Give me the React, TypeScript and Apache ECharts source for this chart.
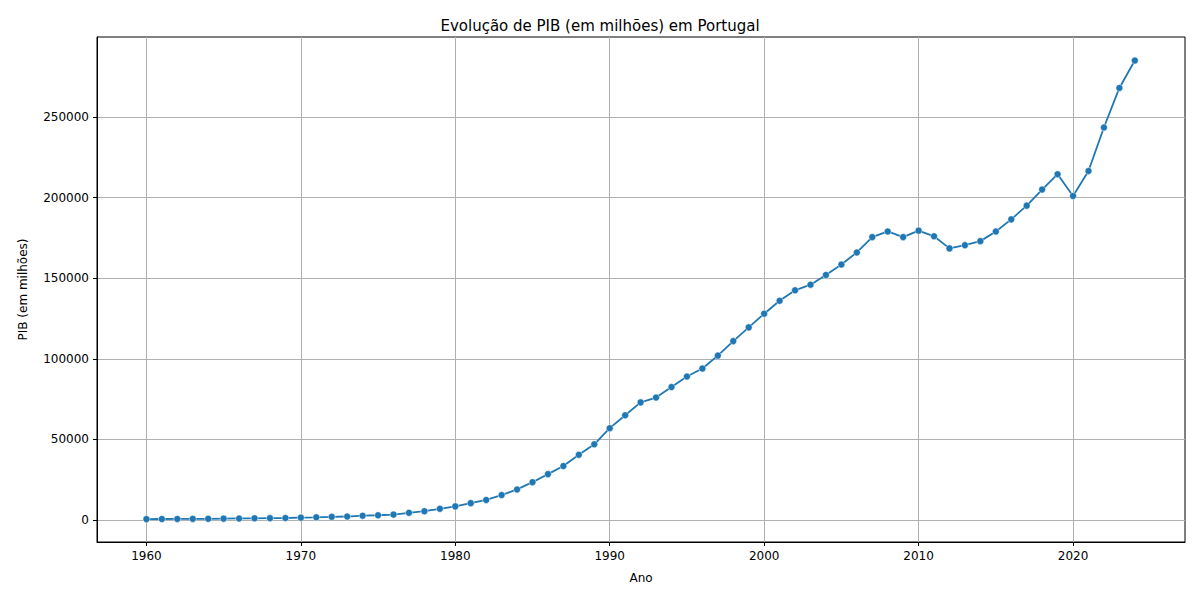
import React, { useEffect, useRef } from "react";
import * as echarts from "echarts";

const years: number[] = Array.from({ length: 65 }, (_, i) => 1960 + i);
const gdp: number[] = [
  600, 650, 700, 750, 800, 900, 1000, 1100, 1200, 1300,
  1500, 1700, 2000, 2200, 2700, 3000, 3400, 4500, 5500, 7000,
  8500, 10500, 12500, 15500, 19000, 23500, 28500, 33500, 40500, 47000,
  57000, 65000, 73000, 76000, 82500, 89000, 94000, 102000, 111000, 119500,
  128000, 136000, 142500, 146000, 152000, 158500, 166000, 175500, 179000, 175500,
  179500, 176000, 168500, 170500, 173000, 179000, 186500, 195000, 205000, 214500,
  201000, 216500, 243500, 268000, 285000,
];
const xTicks = [1960, 1970, 1980, 1990, 2000, 2010, 2020];
const yTicks = [0, 50000, 100000, 150000, 200000, 250000];

export default function App() {
  const ref = useRef<HTMLDivElement>(null);
  useEffect(() => {
    const chart = echarts.init(ref.current!, null, { renderer: "svg" });
    const font = "DejaVu Sans";
    chart.setOption({
      animation: false,
      textStyle: { fontFamily: font },
      title: {
        text: "Evolução de PIB (em milhões) em Portugal",
        left: "center",
        top: 13,
        textStyle: { fontSize: 15, fontWeight: "normal", color: "#000", fontFamily: font },
      },
      grid: { left: 97, right: 15, top: 37, bottom: 58, show: true, borderColor: "#000", borderWidth: 1 },
      xAxis: {
        type: "value",
        min: 1956.8,
        max: 2027.25,
        name: "Ano",
        nameLocation: "middle",
        nameGap: 30,
        nameTextStyle: { fontSize: 12, color: "#000" },
        axisLine: { show: true, onZero: false, lineStyle: { color: "#000" } },
        axisTick: { show: true, customValues: xTicks, length: 4, lineStyle: { color: "#000" } },
        axisLabel: { customValues: xTicks, color: "#000", fontSize: 12, formatter: (v: number) => String(v) },
        splitLine: { show: true, lineStyle: { color: "#b0b0b0" } },
      },
      yAxis: {
        type: "value",
        min: -13600,
        max: 299600,
        name: "PIB (em milhões)",
        nameLocation: "middle",
        nameGap: 68,
        nameTextStyle: { fontSize: 12, color: "#000" },
        axisLine: { show: true, onZero: false, lineStyle: { color: "#000" } },
        axisTick: { show: true, customValues: yTicks, length: 4, lineStyle: { color: "#000" } },
        axisLabel: { customValues: yTicks, color: "#000", fontSize: 12, formatter: (v: number) => String(v) },
        splitLine: { show: true, lineStyle: { color: "#b0b0b0" } },
      },
      series: [
        {
          type: "line",
          data: years.map((y, i) => [y, gdp[i]]),
          symbol: "circle",
          symbolSize: 7,
          lineStyle: { color: "#1f77b4", width: 1.8 },
          itemStyle: { color: "#1f77b4", borderColor: "#fff", borderWidth: 0.5 },
        },
      ],
    });
    return () => chart.dispose();
  }, []);
  return <div ref={ref} style={{ width: 1200, height: 600, position: "absolute", left: 0, top: 0 }} />;
}
